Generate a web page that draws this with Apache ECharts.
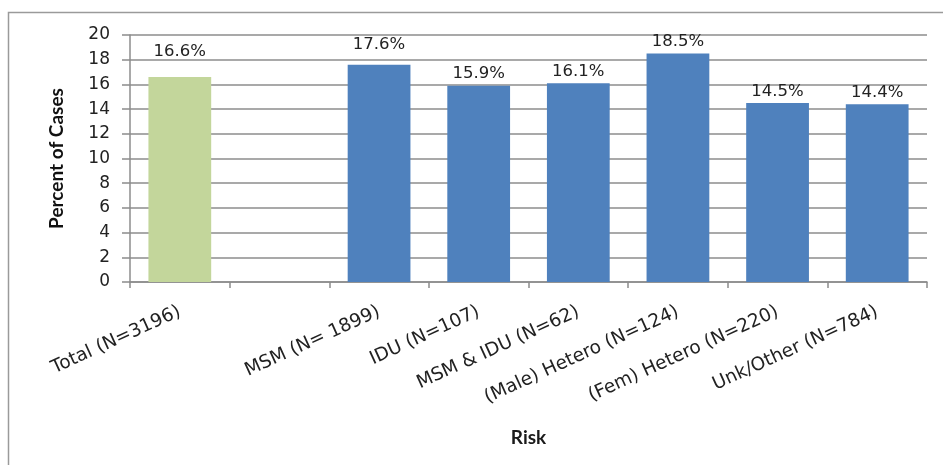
<!DOCTYPE html>
<html>
<head>
<meta charset="utf-8">
<script src="https://cdn.jsdelivr.net/npm/echarts@6/dist/echarts.min.js"></script>
<style>
  html, body { margin: 0; padding: 0; background: #fff; }
  #chart { width: 943px; height: 465px; }
</style>
</head>
<body>
<div id="chart"></div>
<script>
// Risk groups (second slot is an intentional spacer after the total)
const categories = [
  'Total (N=3196)', '', 'MSM (N= 1899)', 'IDU (N=107)', 'MSM & IDU (N=62)',
  '(Male) Hetero (N=124)', '(Fem) Hetero (N=220)', 'Unk/Other (N=784)'
];
// Percent of cases per group
const percentValues = [16.6, null, 17.6, 15.9, 16.1, 18.5, 14.5, 14.4];
const yTicks = [0, 2, 4, 6, 8, 10, 12, 14, 16, 18, 20];

const GREEN = '#c3d69b';
const BLUE = '#4f81bd';
const AXIS_GRAY = '#8c8c8c';

// Extra lift for a couple of value labels sitting higher above their bars
const labelLift = [14, 0, 8, 0, 0, 0, 0, 0];

const chart = echarts.init(document.getElementById('chart'), null, { renderer: 'canvas' });

const barData = percentValues.map((v, i) => ({
  value: v,
  itemStyle: { color: i === 0 ? GREEN : BLUE },
  label: { distance: 3 + labelLift[i] }
}));

chart.setOption({
  animation: false,
  backgroundColor: '#fff',
  graphic: [
    {
      type: 'polyline',
      shape: { points: [[8.5, 470], [8.5, 12.5], [950, 12.5]] },
      style: { stroke: '#9a9a9a', lineWidth: 1.5, fill: null },
      silent: true
    }
  ],
  grid: { left: 130, right: 16, top: 35, bottom: 183, containLabel: false },
  xAxis: {
    type: 'category',
    data: categories,
    name: 'Risk',
    nameLocation: 'middle',
    nameGap: 146,
    nameTextStyle: { fontFamily: 'Lato', fontWeight: 'bold', fontSize: 19, color: '#1a1a1a' },
    axisLine: { show: true, lineStyle: { color: AXIS_GRAY, width: 1.5 } },
    axisTick: { show: true, alignWithLabel: false, length: 6, lineStyle: { color: AXIS_GRAY, width: 1.5 } },
    axisLabel: {
      interval: 0,
      rotate: 24.5,
      margin: 29,
      fontFamily: 'DejaVu Sans',
      fontSize: 18.5,
      color: '#222'
    },
    splitLine: { show: false }
  },
  yAxis: {
    type: 'value',
    min: 0,
    max: 20,
    interval: 2,
    name: 'Percent of Cases',
    nameLocation: 'middle',
    nameGap: 64,
    nameTextStyle: { fontFamily: 'Lato', fontWeight: 'bold', fontSize: 19, color: '#111' },
    axisLine: { show: true, lineStyle: { color: AXIS_GRAY, width: 1.5 } },
    axisTick: { show: true, length: 8, lineStyle: { color: AXIS_GRAY, width: 1.5 } },
    axisLabel: {
      margin: 20,
      fontFamily: 'DejaVu Sans',
      fontSize: 17,
      color: '#222',
      formatter: v => (yTicks.includes(v) ? String(v) : '')
    },
    splitLine: { show: true, lineStyle: { color: AXIS_GRAY, width: 1.5 } }
  },
  series: [
    {
      type: 'bar',
      data: barData,
      barWidth: '63%',
      label: {
        show: true,
        position: 'top',
        fontFamily: 'DejaVu Sans',
        fontSize: 16.5,
        color: '#222',
        formatter: p => (p.value == null ? '' : p.value.toFixed(1) + '%')
      }
    }
  ]
});
</script>
</body>
</html>
